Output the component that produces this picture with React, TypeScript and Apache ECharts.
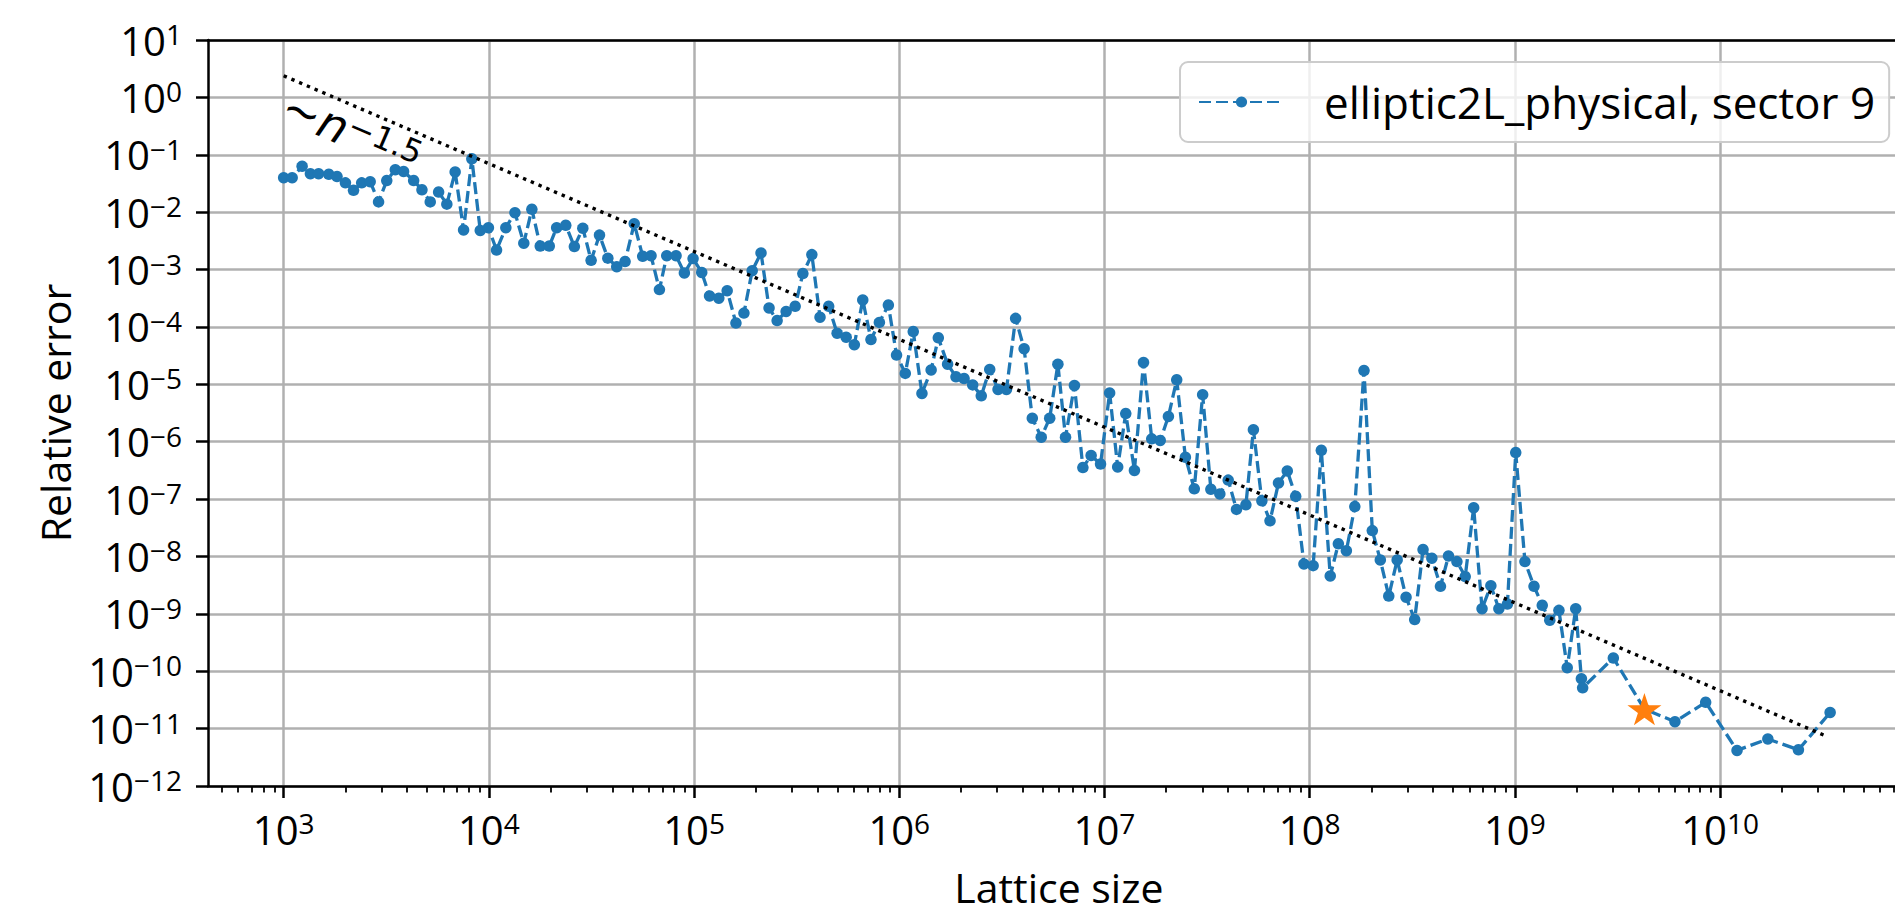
import React, { useEffect, useRef } from "react";
import * as echarts from "echarts";

// ---------------- data ----------------
const SERIES_NAME = "elliptic2L_physical, sector 9";

const latticeSize = [
  1.00e3, 1.10e3, 1.23e3, 1.35e3, 1.48e3, 1.66e3, 1.82e3, 2.00e3, 2.19e3, 2.40e3,
  2.64e3, 2.90e3, 3.18e3, 3.50e3, 3.84e3, 4.30e3, 4.72e3, 5.18e3, 5.69e3, 6.24e3,
  6.85e3, 7.53e3, 8.26e3, 9.08e3, 9.95e3, 1.09e4, 1.21e4, 1.34e4, 1.48e4, 1.62e4,
  1.78e4, 1.97e4, 2.14e4, 2.37e4, 2.61e4, 2.87e4, 3.15e4, 3.46e4, 3.80e4, 4.20e4,
  4.61e4, 5.11e4, 5.62e4, 6.17e4, 6.78e4, 7.36e4, 8.17e4, 8.97e4, 9.89e4, 1.09e5,
  1.19e5, 1.32e5, 1.45e5, 1.60e5, 1.75e5, 1.92e5, 2.12e5, 2.32e5, 2.54e5, 2.81e5,
  3.11e5, 3.39e5, 3.75e5, 4.11e5, 4.53e5, 4.98e5, 5.51e5, 6.04e5, 6.64e5, 7.28e5,
  8.00e5, 8.85e5, 9.70e5, 1.07e6, 1.17e6, 1.29e6, 1.43e6, 1.55e6, 1.72e6, 1.89e6,
  2.07e6, 2.28e6, 2.51e6, 2.76e6, 3.03e6, 3.33e6, 3.69e6, 4.06e6, 4.45e6, 4.92e6,
  5.41e6, 5.93e6, 6.46e6, 7.14e6, 7.85e6, 8.61e6, 9.57e6, 1.06e7, 1.16e7, 1.27e7,
  1.40e7, 1.55e7, 1.70e7, 1.87e7, 2.05e7, 2.25e7, 2.48e7, 2.74e7, 3.01e7, 3.30e7,
  3.65e7, 4.01e7, 4.40e7, 4.89e7, 5.32e7, 5.85e7, 6.41e7, 7.05e7, 7.78e7, 8.55e7,
  9.38e7, 1.04e8, 1.14e8, 1.26e8, 1.38e8, 1.51e8, 1.66e8, 1.84e8, 2.02e8, 2.21e8,
  2.43e8, 2.67e8, 2.95e8, 3.25e8, 3.57e8, 3.94e8, 4.34e8, 4.75e8, 5.22e8, 5.73e8,
  6.30e8, 6.92e8, 7.64e8, 8.36e8, 9.20e8, 1.01e9, 1.12e9, 1.24e9, 1.36e9, 1.48e9,
  1.64e9, 1.80e9, 1.98e9, 2.11e9, 2.14e9, 3.02e9, 4.28e9, 6.03e9, 8.51e9, 1.21e10,
  1.71e10, 2.41e10, 3.44e10,
];

const relativeError = [
  3.98e-2, 3.98e-2, 6.31e-2, 4.68e-2, 4.68e-2, 4.57e-2, 4.17e-2, 3.24e-2, 2.40e-2, 3.24e-2,
  3.39e-2, 1.51e-2, 3.55e-2, 5.50e-2, 5.13e-2, 3.55e-2, 2.45e-2, 1.51e-2, 2.24e-2, 1.38e-2,
  5.01e-2, 4.90e-3, 8.51e-2, 4.79e-3, 5.37e-3, 2.19e-3, 5.37e-3, 9.77e-3, 2.88e-3, 1.12e-2,
  2.57e-3, 2.57e-3, 5.37e-3, 5.89e-3, 2.51e-3, 5.25e-3, 1.45e-3, 3.98e-3, 1.58e-3, 1.12e-3,
  1.38e-3, 6.31e-3, 1.70e-3, 1.74e-3, 4.47e-4, 1.74e-3, 1.74e-3, 8.71e-4, 1.55e-3, 8.91e-4,
  3.47e-4, 3.16e-4, 4.27e-4, 1.17e-4, 1.74e-4, 9.55e-4, 1.95e-3, 2.14e-4, 1.29e-4, 1.86e-4,
  2.29e-4, 8.51e-4, 1.82e-3, 1.48e-4, 2.29e-4, 7.76e-5, 6.61e-5, 4.90e-5, 2.95e-4, 6.03e-5,
  1.20e-4, 2.40e-4, 3.24e-5, 1.55e-5, 8.32e-5, 6.92e-6, 1.78e-5, 6.46e-5, 2.24e-5, 1.35e-5,
  1.26e-5, 9.77e-6, 6.31e-6, 1.82e-5, 8.13e-6, 8.13e-6, 1.41e-4, 4.17e-5, 2.57e-6, 1.20e-6,
  2.57e-6, 2.24e-5, 1.20e-6, 9.55e-6, 3.55e-7, 5.75e-7, 4.07e-7, 7.08e-6, 3.63e-7, 3.09e-6,
  3.16e-7, 2.40e-5, 1.12e-6, 1.05e-6, 2.75e-6, 1.20e-5, 5.37e-7, 1.51e-7, 6.61e-6, 1.48e-7,
  1.23e-7, 2.14e-7, 6.61e-8, 7.94e-8, 1.62e-6, 9.33e-8, 4.17e-8, 1.91e-7, 3.09e-7, 1.12e-7,
  7.41e-9, 6.92e-9, 7.08e-7, 4.57e-9, 1.66e-8, 1.26e-8, 7.41e-8, 1.74e-5, 2.82e-8, 8.71e-9,
  2.04e-9, 8.71e-9, 1.95e-9, 7.94e-10, 1.32e-8, 9.33e-9, 3.02e-9, 1.02e-8, 8.13e-9, 4.47e-9,
  7.08e-8, 1.23e-9, 3.09e-9, 1.23e-9, 1.48e-9, 6.46e-7, 8.13e-9, 3.02e-9, 1.41e-9, 7.76e-10,
  1.15e-9, 1.15e-10, 1.23e-9, 7.41e-11, 5.13e-11, 1.70e-10, 2.19e-11, 1.32e-11, 2.88e-11, 4.17e-12,
  6.61e-12, 4.27e-12, 1.91e-11,
];

// highlighted point (orange star)
const starSize = [4.28e9];
const starError = [2.19e-11];

// ~ n^-1.5 guide line end points
const guideSize = [1.0e3, 3.35e10];
const guideError = [2.38, 7.2e-12];
const GUIDE_LABEL_EXP = "\u22121.5";

// axis ticks
const xMajorTicks = [1e3, 1e4, 1e5, 1e6, 1e7, 1e8, 1e9, 1e10];
const yMajorTicks = [
  1e-12, 1e-11, 1e-10, 1e-9, 1e-8, 1e-7, 1e-6, 1e-5, 1e-4, 1e-3, 1e-2, 1e-1, 1e0, 1e1,
];
const minorMantissas = [2, 3, 4, 5, 6, 7, 8, 9];
const minorDecades = [1e2, 1e3, 1e4, 1e5, 1e6, 1e7, 1e8, 1e9, 1e10];

const X_MIN = 427.8;
const X_MAX = 8.4e10;
const Y_MIN = 1e-12;
const Y_MAX = 10;

// ---------------- layout / style ----------------
const VIEW_W = 1895;
const VIEW_H = 914;
const CHART_W = 1912;
const PLOT_LEFT = 208;
const PLOT_RIGHT = 1909.7;
const PLOT_TOP = 40;
const PLOT_BOTTOM = 791;

const FONT = "'Open Sans', 'Noto Sans', sans-serif";
const MATH_FONT = "'DejaVu Sans', sans-serif";
const BLUE = "#1f77b4";
const ORANGE = "#ff7f0e";
const GRID_GRAY = "#b0b0b0";
const STAR_PATH =
  "path://M100,0 L122.45,69.1 L195.1,69.1 L136.3,111.8 L158.8,180.9 L100,138.2 L41.2,180.9 L63.7,111.8 L4.9,69.1 L77.55,69.1 Z";

const xMinorTicks: number[] = [];
minorDecades.forEach((d) =>
  minorMantissas.forEach((m) => {
    const v = m * d;
    if (v > X_MIN && v < X_MAX) xMinorTicks.push(v);
  })
);

const powerLabel = (v: number) => {
  const e = Math.round(Math.log10(v));
  const s = e < 0 ? "\u2212" + Math.abs(e) : String(e);
  return `{b|10}{s|${s}}`;
};

const TICK_RICH = {
  b: { fontSize: 40, fontFamily: FONT, color: "#000", lineHeight: 40 },
  s: { fontSize: 28, fontFamily: FONT, color: "#000", lineHeight: 12, verticalAlign: "top" },
};

const spine = { show: true, onZero: false, lineStyle: { color: "#000", width: 2.5 } };

export default function App() {
  const ref = useRef<HTMLDivElement>(null);

  useEffect(() => {
    if (!ref.current) return;
    const chart = echarts.init(ref.current, null, {
      renderer: "svg",
      width: CHART_W,
      height: VIEW_H,
    });

    const option: any = {
      animation: false,
      backgroundColor: "#ffffff",
      grid: {
        left: PLOT_LEFT,
        top: PLOT_TOP,
        right: CHART_W - PLOT_RIGHT,
        bottom: VIEW_H - PLOT_BOTTOM,
        containLabel: false,
      },
      legend: {
        show: true,
        data: [SERIES_NAME],
        left: 1180,
        top: 62,
        orient: "horizontal",
        padding: [17, 14, 17, 18],
        itemWidth: 85,
        itemHeight: 14,
        backgroundColor: "rgba(255,255,255,0.8)",
        borderColor: "#cccccc",
        borderWidth: 2,
        borderRadius: 8,
        selectedMode: false,
        textStyle: {
          fontSize: 44,
          fontFamily: FONT,
          color: "#000",
          lineHeight: 46,
          padding: [0, 0, 0, 35],
        },
      },
      xAxis: [
        {
          type: "log",
          logBase: 10,
          min: X_MIN,
          max: X_MAX,
          position: "bottom",
          name: "Lattice size",
          nameLocation: "middle",
          nameGap: 101,
          nameTextStyle: {
            fontSize: 41,
            fontFamily: FONT,
            color: "#000",
            verticalAlign: "middle",
            lineHeight: 44,
          },
          axisLine: spine,
          axisTick: {
            show: true,
            inside: false,
            length: 12,
            customValues: xMajorTicks,
            lineStyle: { color: "#000", width: 2.5 },
          },
          axisLabel: {
            show: true,
            margin: 23,
            customValues: xMajorTicks,
            formatter: powerLabel,
            rich: TICK_RICH,
          },
          splitLine: { show: true, lineStyle: { color: GRID_GRAY, width: 2.5 } },
          minorTick: { show: false },
          minorSplitLine: { show: false },
        },
        {
          type: "log",
          logBase: 10,
          min: X_MIN,
          max: X_MAX,
          position: "bottom",
          axisLine: { show: false },
          axisTick: {
            show: true,
            inside: false,
            length: 6.5,
            customValues: xMinorTicks,
            lineStyle: { color: "#000", width: 1.8 },
          },
          axisLabel: { show: false },
          splitLine: { show: false },
        },
        {
          type: "log",
          logBase: 10,
          min: X_MIN,
          max: X_MAX,
          position: "top",
          axisLine: spine,
          axisTick: { show: false },
          axisLabel: { show: false },
          splitLine: { show: false },
        },
      ],
      yAxis: [
        {
          type: "log",
          logBase: 10,
          min: Y_MIN,
          max: Y_MAX,
          position: "left",
          name: "Relative error",
          nameLocation: "middle",
          nameRotate: 90,
          nameGap: 153,
          nameTextStyle: {
            fontSize: 41,
            fontFamily: FONT,
            color: "#000",
            verticalAlign: "middle",
            lineHeight: 44,
          },
          axisLine: spine,
          axisTick: {
            show: true,
            inside: false,
            length: 12,
            customValues: yMajorTicks,
            lineStyle: { color: "#000", width: 2.5 },
          },
          axisLabel: {
            show: true,
            margin: 26,
            customValues: yMajorTicks,
            formatter: powerLabel,
            rich: TICK_RICH,
          },
          splitLine: { show: true, lineStyle: { color: GRID_GRAY, width: 2.5 } },
          minorTick: { show: false },
          minorSplitLine: { show: false },
        },
      ],
      series: [
        {
          name: SERIES_NAME,
          type: "line",
          xAxisIndex: 0,
          yAxisIndex: 0,
          data: latticeSize.map((n, i) => [n, relativeError[i]]),
          symbol: "circle",
          symbolSize: 11.5,
          showSymbol: true,
          showAllSymbol: true,
          itemStyle: { color: BLUE, borderWidth: 0, opacity: 1 },
          lineStyle: { color: BLUE, width: 3.3, type: [12, 5] },
          emphasis: { disabled: true },
          z: 2,
        },
        {
          name: "guide",
          type: "line",
          xAxisIndex: 0,
          yAxisIndex: 0,
          data: guideSize.map((n, i) => [n, guideError[i]]),
          symbol: "none",
          lineStyle: { color: "#000", width: 3.4, type: [3.4, 5] },
          emphasis: { disabled: true },
          z: 3,
        },
        {
          name: "highlight",
          type: "scatter",
          xAxisIndex: 0,
          yAxisIndex: 0,
          data: starSize.map((n, i) => [n, starError[i]]),
          symbol: STAR_PATH,
          symbolSize: [34, 32.4],
          itemStyle: { color: ORANGE, opacity: 1 },
          emphasis: { disabled: true },
          z: 4,
        },
      ],
    };

    chart.setOption(option);

    // rotated "~n^-1.5" annotation placed along the guide line
    const p0 = chart.convertToPixel({ seriesIndex: 1 }, [guideSize[0], guideError[0]]) as number[];
    const p1 = chart.convertToPixel({ seriesIndex: 1 }, [guideSize[1], guideError[1]]) as number[];
    if (p0 && p1) {
      const angle = Math.atan2(p1[1] - p0[1], p1[0] - p0[0]);
      chart.setOption({
        graphic: [
          {
            type: "text",
            x: p0[0] + 1,
            y: p0[1] + 28,
            rotation: -angle,
            silent: true,
            z: 10,
            style: {
              text: `{t|\u223C}{n|n}{s|${GUIDE_LABEL_EXP}}`,
              align: "left",
              verticalAlign: "middle",
              fill: "#000",
              rich: {
                t: { fontSize: 46, fontFamily: MATH_FONT, fill: "#000", lineHeight: 46 },
                n: {
                  fontSize: 46,
                  fontFamily: MATH_FONT,
                  fontStyle: "italic",
                  fill: "#000",
                  lineHeight: 46,
                },
                s: {
                  fontSize: 32,
                  fontFamily: MATH_FONT,
                  fill: "#000",
                  lineHeight: 14,
                  verticalAlign: "top",
                },
              },
            },
          },
        ],
      });
    }

    return () => {
      chart.dispose();
    };
  }, []);

  return (
    <div
      style={{
        position: "fixed",
        left: 0,
        top: 0,
        width: VIEW_W,
        height: VIEW_H,
        overflow: "hidden",
        background: "#ffffff",
      }}
    >
      <div ref={ref} style={{ width: CHART_W, height: VIEW_H }} />
    </div>
  );
}
